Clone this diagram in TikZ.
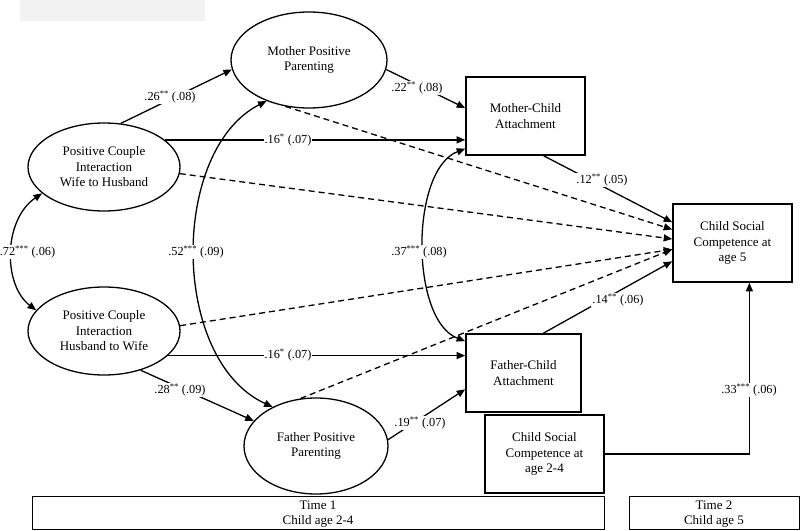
\documentclass[tikz,border=0pt]{standalone}
\usepackage{fontspec}
\setmainfont{Liberation Serif}
\usetikzlibrary{shapes.geometric,arrows.meta,calc}
\begin{document}
\begin{tikzpicture}[x=1pt,y=-1pt,
  tip/.tip={Triangle[length=8.5pt,width=7pt]},
  arr/.style={-tip, line width=1.3pt},
  darr/.style={-tip, line width=1.3pt, dash pattern=on 6pt off 4pt},
  biarr/.style={tip-tip, line width=1.3pt},
  lbl/.style={fill=white, inner sep=1pt, font=\fontsize{12.3}{14}\selectfont},
  ell/.style={draw, ellipse, line width=1.3pt, inner sep=0pt, align=center, font=\fontsize{13}{15.5}\selectfont},
  box/.style={draw, rectangle, line width=1.6pt, inner sep=0pt, align=center, font=\fontsize{13}{15.5}\selectfont},
  tbox/.style={draw, rectangle, line width=1pt, inner sep=0pt, align=center, font=\fontsize{13}{15}\selectfont}
]
\useasboundingbox (0,0) rectangle (800,530);
\fill[black!5] (20,0) rectangle (205,21);

% ellipses
\node[ell, minimum width=156, minimum height=96] (mpp) at (309,60) {Mother Positive\\Parenting};
\node[ell, minimum width=152, minimum height=88] (w2h) at (104,167) {Positive Couple\\Interaction\\Wife to Husband};
\node[ell, minimum width=152, minimum height=88] (h2w) at (104,331) {Positive Couple\\Interaction\\Husband to Wife};
\node[ell, minimum width=144, minimum height=96] (fpp) at (316,446) {Father Positive\\Parenting};

% boxes
\node[box, minimum width=119, minimum height=78] (mca) at (525.5,116) {Mother-Child\\Attachment};
\node[box, minimum width=115, minimum height=78] (fca) at (523.5,373) {Father-Child\\Attachment};
\node[box, minimum width=119, minimum height=78] (csc5) at (732.5,243) {Child Social\\Competence at\\age 5};
\node[box, minimum width=119, minimum height=78] (csc24) at (544.5,454) {Child Social\\Competence at\\age 2-4};

\node[tbox, minimum width=572, minimum height=33] (t1) at (318,512.5) {};
\node[font=\fontsize{13}{15}\selectfont, align=center] (t1txt) at (318,514) {Time 1\\Child age 2-4};
\node[tbox, minimum width=170, minimum height=33] (t2) at (714,512.5) {};
\node[font=\fontsize{13}{15}\selectfont, align=center] (t2txt) at (714,514) {Time 2\\Child age 5};

% points on box sides
\coordinate (c1) at ($(csc5.north west)!0.24!(csc5.south west)$);
\coordinate (c2) at ($(csc5.north west)!0.33!(csc5.south west)$);
\coordinate (c3) at ($(csc5.north west)!0.45!(csc5.south west)$);
\coordinate (c4) at ($(csc5.north west)!0.58!(csc5.south west)$);
\coordinate (c5) at ($(csc5.north west)!0.73!(csc5.south west)$);
\coordinate (c6) at ($(csc5.south west)!0.64!(csc5.south east)$);
\coordinate (m1) at ($(mca.north west)!0.4!(mca.south west)$);
\coordinate (m2) at ($(mca.north west)!0.91!(mca.south west)$);
\coordinate (m3) at ($(mca.south west)!0.65!(mca.south east)$);
\coordinate (f1) at ($(fca.north west)!0.1!(fca.south west)$);
\coordinate (f2) at ($(fca.north west)!0.705!(fca.south west)$);
\coordinate (f3) at ($(fca.north west)!0.67!(fca.north east)$);

% solid paths
\draw[arr] (w2h.69) -- (mpp.187);
\draw[arr] (w2h.24) -- (w2h.24 -| mca.west);
\draw[arr] (mpp.-7) -- (m1);
\draw[arr] (m3) -- (c1);
\draw[arr] (h2w.-21) -- (h2w.-21 -| fca.west);
\draw[arr] (h2w.-47) -- (fpp.158);
\draw[arr] (fpp.5) -- (f2);
\draw[arr] (f3) -- (c5);
\draw[arr] (csc24.east) -| (c6);

% dashed paths
\draw[darr] (mpp.243) -- (c2);
\draw[darr] (w2h.355) -- (c3);
\draw[darr] (h2w.4) -- (c4);
\draw[darr] (fpp.108) -- (c4);

% correlations
\draw[biarr] (w2h.203) .. controls (3,220) and (3,285) .. (h2w.163);
\draw[biarr] (mpp.224) .. controls (170,150) and (170,360) .. (fpp.138);
\draw[biarr] (m2) .. controls (410,170) and (410,320) .. (f1);

% labels
\node[lbl] (l26) at (170,97) {.26\textsuperscript{**} (.08)};
\node[lbl] (l16a) at (288,140) {.16\textsuperscript{*} (.07)};
\node[lbl] (l22) at (417,88) {.22\textsuperscript{**} (.08)};
\node[lbl] (l12) at (602,180) {.12\textsuperscript{**} (.05)};
\node[lbl, inner sep=0.5pt] (l72) at (27.5,252) {.72\textsuperscript{***} (.06)};
\node[lbl] (l52) at (196,252) {.52\textsuperscript{***} (.09)};
\node[lbl] (l37) at (419,252) {.37\textsuperscript{***} (.08)};
\node[lbl] (l14) at (618,300) {.14\textsuperscript{**} (.06)};
\node[lbl] (l16b) at (288,355) {.16\textsuperscript{*} (.07)};
\node[lbl] (l28) at (180,390) {.28\textsuperscript{**} (.09)};
\node[lbl] (l19) at (420,423) {.19\textsuperscript{**} (.07)};
\node[lbl] (l33) at (749,390) {.33\textsuperscript{***} (.06)};
\end{tikzpicture}
\end{document}
